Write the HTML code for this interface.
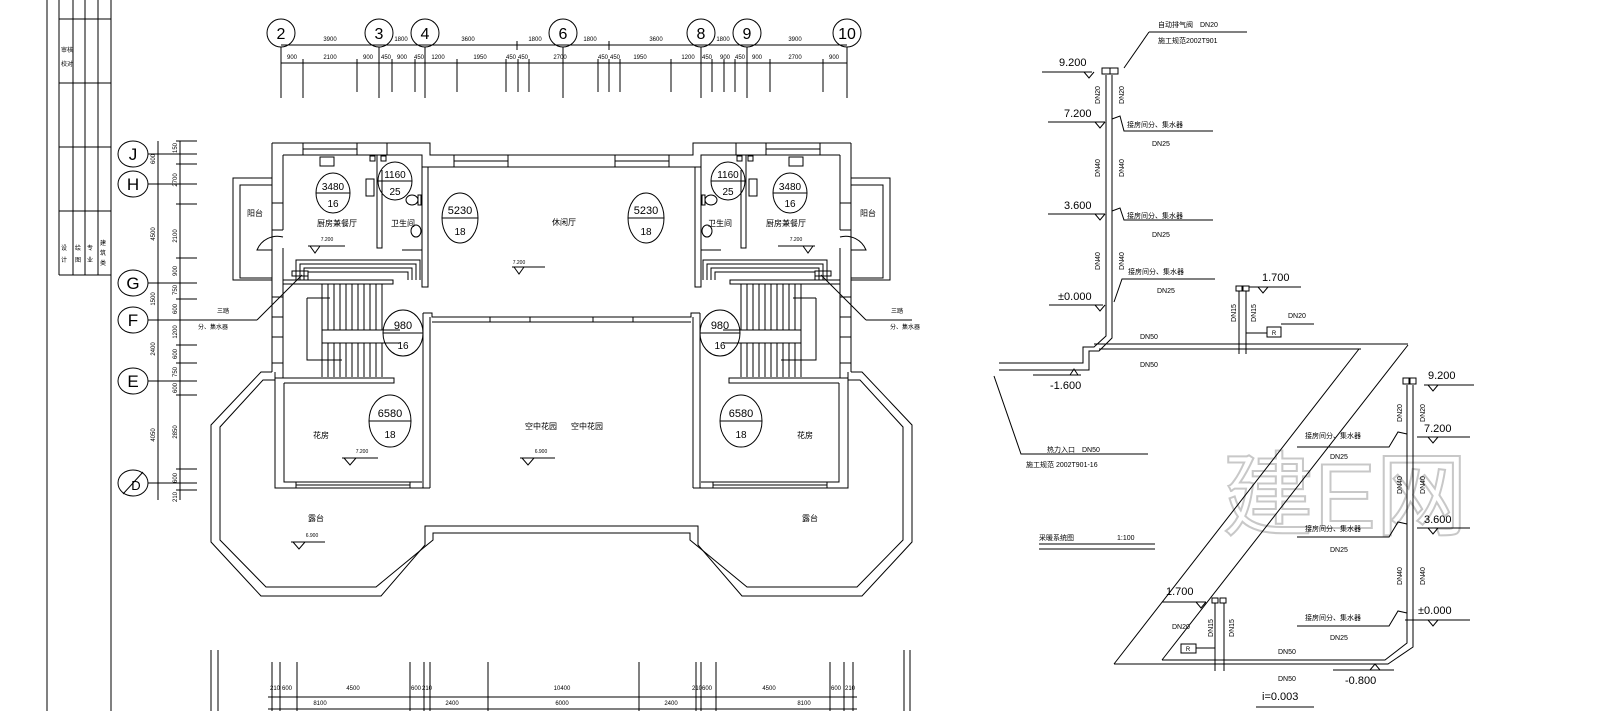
<!DOCTYPE html>
<html><head><meta charset="utf-8"><style>
html,body{margin:0;padding:0;background:#fff;}
svg{display:block;}
text{font-family:"Liberation Sans","Noto Sans CJK SC",sans-serif;fill:#000;}
.c{font-family:"Liberation Sans","Noto Sans CJK SC",sans-serif;}
</style></head><body>
<svg width="1600" height="711" viewBox="0 0 1600 711" xmlns="http://www.w3.org/2000/svg">
<g stroke="#000" stroke-width="1" fill="none">
<!-- title block -->
<line x1="47" y1="0" x2="47" y2="711"/>
<line x1="111" y1="0" x2="111" y2="711"/>
<path d="M59 0V275M73 0V275M85 0V275M98 0V275M59 19H111M59 83H111M59 147H111M59 211H111M59 275H111"/>
</g>
<g font-size="6" class="c">
<text x="61" y="52">审核</text><text x="61" y="66">校对</text>
<text x="61" y="250">设</text><text x="61" y="262">计</text>
<text x="75" y="250">绘</text><text x="75" y="262">图</text>
<text x="87" y="250">专</text><text x="87" y="262">业</text>
<text x="100" y="245">建</text><text x="100" y="255">筑</text><text x="100" y="265">类</text>
</g>

<!-- top axis -->
<g stroke="#000" stroke-width="1" fill="none">
<line x1="281" y1="45" x2="847" y2="45"/>
<line x1="281" y1="63" x2="847" y2="63"/>
<path d="M281 47V98M379 47V98M425 47V98M563 47V98M701 47V98M747 47V98M847 47V98"/>
<path d="M517 41V50M609 41V50"/>
<path d="M303 59V98M357 59V92M392 59V92M415 59V92M457 59V92M506 59V92M518 59V92M529 59V92M598 59V92M609 59V92M620 59V92M671 59V92M712 59V92M724 59V92M735 59V92M770 59V92M823 59V92"/>
<circle cx="281" cy="33" r="14"/><circle cx="379" cy="33" r="14"/><circle cx="425" cy="33" r="14"/><circle cx="563" cy="33" r="14"/><circle cx="701" cy="33" r="14"/><circle cx="747" cy="33" r="14"/><circle cx="847" cy="33" r="14"/>
</g>
<g font-size="16" text-anchor="middle">
<text x="281" y="39">2</text><text x="379" y="39">3</text><text x="425" y="39">4</text><text x="563" y="39">6</text><text x="701" y="39">8</text><text x="747" y="39">9</text><text x="847" y="39">10</text>
</g>
<g font-size="6" text-anchor="middle">
<text x="330" y="41">3900</text><text x="401" y="41">1800</text><text x="468" y="41">3600</text><text x="535" y="41">1800</text><text x="590" y="41">1800</text><text x="656" y="41">3600</text><text x="723" y="41">1800</text><text x="795" y="41">3900</text>
<text x="292" y="59">900</text><text x="330" y="59">2100</text><text x="368" y="59">900</text><text x="386" y="59">450</text><text x="402" y="59">900</text><text x="419" y="59">450</text><text x="438" y="59">1200</text><text x="480" y="59">1950</text><text x="511" y="59">450</text><text x="523" y="59">450</text><text x="560" y="59">2700</text><text x="603" y="59">450</text><text x="615" y="59">450</text><text x="640" y="59">1950</text><text x="688" y="59">1200</text><text x="707" y="59">450</text><text x="725" y="59">900</text><text x="740" y="59">450</text><text x="757" y="59">900</text><text x="795" y="59">2700</text><text x="834" y="59">900</text>
</g>

<!-- left axis -->
<g stroke="#000" stroke-width="1" fill="none">
<line x1="158" y1="141" x2="158" y2="500"/>
<line x1="180" y1="141" x2="180" y2="500"/>
<path d="M148 154H197M148 184H197M148 283H197M148 320H197M148 381H197M148 483H197"/>
<path d="M176 141H197M176 164H197M176 204H197M176 258H197M176 299H197M176 345H197M176 363H197M176 395H197M176 469H197M176 490H197"/>
<ellipse cx="133" cy="154" rx="15" ry="13"/><ellipse cx="133" cy="184" rx="15" ry="13"/><ellipse cx="133" cy="283" rx="15" ry="13"/><ellipse cx="133" cy="320" rx="15" ry="13"/><ellipse cx="133" cy="381" rx="15" ry="13"/><ellipse cx="133" cy="483" rx="15" ry="13"/>
<line x1="123" y1="494" x2="143" y2="472"/>
</g>
<g font-size="17" text-anchor="middle">
<text x="133" y="160">J</text><text x="133" y="190">H</text><text x="133" y="289">G</text><text x="133" y="326">F</text><text x="133" y="387">E</text><text x="136" y="490" font-size="13">D</text>
</g>
<g font-size="6" text-anchor="middle">
<text transform="translate(155,159) rotate(-90)">600</text>
<text transform="translate(155,234) rotate(-90)">4500</text>
<text transform="translate(155,299) rotate(-90)">1500</text>
<text transform="translate(155,349) rotate(-90)">2400</text>
<text transform="translate(155,435) rotate(-90)">4050</text>
<text transform="translate(177,148) rotate(-90)">150</text>
<text transform="translate(177,180) rotate(-90)">2700</text>
<text transform="translate(177,236) rotate(-90)">2100</text>
<text transform="translate(177,271) rotate(-90)">900</text>
<text transform="translate(177,290) rotate(-90)">750</text>
<text transform="translate(177,309) rotate(-90)">600</text>
<text transform="translate(177,332) rotate(-90)">1200</text>
<text transform="translate(177,354) rotate(-90)">600</text>
<text transform="translate(177,372) rotate(-90)">750</text>
<text transform="translate(177,388) rotate(-90)">600</text>
<text transform="translate(177,432) rotate(-90)">2850</text>
<text transform="translate(177,478) rotate(-90)">600</text>
<text transform="translate(177,497) rotate(-90)">210</text>
</g>

<!-- plan: left half, mirrored for right -->
<defs>
<g id="half" stroke="#000" stroke-width="1" fill="none">
  <!-- block top -->
  <path d="M272 143H430V155H562"/>
  <path d="M283 155H422V167H562"/>
  <path d="M303 143V155M357 143V155M387 143V155M303 149H357M454 155V167M508 155V167M454 161H508"/>
  <!-- left walls -->
  <path d="M272 143V372"/>
  <path d="M283 155V230M283 248V378"/>
  <path d="M272 203H283M272 230H283M272 297H283M272 317H283M272 337H283M272 363H283"/>
  <!-- balcony -->
  <path d="M272 178H233V280H272"/>
  <path d="M272 185H240V278H272"/>
  <path d="M283 237A22 22 0 0 0 257 250H272"/>
  <!-- partitions -->
  <path d="M377 155V248H382V170"/>
  <path d="M422 167V287H428V167"/>
  <path d="M402 250H422"/>
  <!-- fixtures -->
  <rect x="320" y="157" width="14" height="9"/><rect x="366" y="179" width="8" height="17"/>
  <rect x="370" y="156" width="5" height="5"/><rect x="381" y="156" width="5" height="5"/>
  <ellipse cx="412" cy="200" rx="6" ry="5"/><rect x="418" y="195" width="3" height="10"/>
  <ellipse cx="416" cy="231" rx="5" ry="6"/>
  <!-- heating coils -->
  <path d="M296 280V260H420V280M300 280V264H416V280M304 280V268H412V280M308 280V272H408V280"/>
  <rect x="292" y="271" width="16" height="5"/>
  <!-- stair -->
  <path d="M283 280H393V284H283"/>
  <path d="M322 284V330M328 284V330M334 284V330M340 284V330M346 284V330M352 284V330M358 284V330M364 284V330M370 284V330M376 284V330M382 284V330"/>
  <path d="M322 343V377M328 343V377M334 343V377M340 343V377M346 343V377M352 343V377M358 343V377M364 343V377M370 343V377M376 343V377M382 343V377"/>
  <path d="M307 298H330M307 298V360H342"/>
  <path d="M322 298V330H400M322 343H400M322 330V343"/>
  <!-- garden left wall / corridor -->
  <path d="M423 313V488M430 317V488"/>
  <path d="M423 313H432V317H562M432 322H562"/>
  <path d="M490 317V322M530 317V322"/>
  <!-- flower room -->
  <path d="M275 378H394V383H284M284 383V482H422"/>
  <path d="M275 372V488H430"/>
  <path d="M296 482V488M410 482V488M296 485H410"/>
  <!-- terrace -->
  <path d="M272 372H261L211 425V542L261 596H381L425 545V526H562"/>
  <path d="M275 380H263L220 427V540L266 587H376L433 540V533H562"/>
  <!-- leader -->
  <path d="M302 275L257 320"/>
</g>
</defs>
<use href="#half"/>
<use href="#half" transform="matrix(-1,0,0,1,1123,0)"/>
<g stroke="#000" stroke-width="1" fill="none">
  <path d="M197 320H257M866 320H912"/>
  <!-- room circles -->
  <ellipse cx="333" cy="193" rx="17" ry="20"/><path d="M316 193H350"/>
  <ellipse cx="395" cy="181" rx="17" ry="19"/><path d="M378 181H412"/>
  <ellipse cx="460" cy="218" rx="18" ry="25"/><path d="M442 218H478"/>
  <ellipse cx="403" cy="333" rx="20" ry="23"/><path d="M383 333H423"/>
  <ellipse cx="390" cy="421" rx="21" ry="26"/><path d="M369 421H411"/>
  <ellipse cx="790" cy="193" rx="17" ry="20"/><path d="M773 193H807"/>
  <ellipse cx="728" cy="181" rx="17" ry="19"/><path d="M711 181H745"/>
  <ellipse cx="646" cy="218" rx="18" ry="25"/><path d="M628 218H664"/>
  <ellipse cx="720" cy="333" rx="20" ry="23"/><path d="M700 333H740"/>
  <ellipse cx="741" cy="421" rx="21" ry="26"/><path d="M720 421H762"/>
  <!-- elevation marks -->
  <path d="M308 246H345M310 246L315 253L320 246"/>
  <path d="M778 246H815M803 246L808 253L813 246"/>
  <path d="M512 267H545M514 267L519 274L524 267"/>
  <path d="M342 458H378M344 458L350 465L356 458"/>
  <path d="M520 458H555M522 458L528 465L534 458"/>
  <path d="M291 542H325M293 542L299 549L305 542"/>
  <!-- bottom dims -->
  <path d="M211 650V711M218 650V711M272 662V711M280 662V711M297 662V711M410 662V711M424 662V711M430 662V711M488 662V711M639 662V711M696 662V711M701 662V711M716 662V711M830 662V711M844 662V711M853 662V711M904 650V711M910 650V711"/>
  <path d="M268 697H857M268 709H857"/>
</g>
<g font-size="10" text-anchor="middle">
  <text x="333" y="190">3480</text><text x="333" y="207">16</text>
  <text x="395" y="178">1160</text><text x="395" y="195">25</text>
  <text x="460" y="214" font-size="11">5230</text><text x="460" y="235">18</text>
  <text x="403" y="329" font-size="11">980</text><text x="403" y="349">16</text>
  <text x="390" y="417" font-size="11">6580</text><text x="390" y="438">18</text>
  <text x="790" y="190">3480</text><text x="790" y="207">16</text>
  <text x="728" y="178">1160</text><text x="728" y="195">25</text>
  <text x="646" y="214" font-size="11">5230</text><text x="646" y="235">18</text>
  <text x="720" y="329" font-size="11">980</text><text x="720" y="349">16</text>
  <text x="741" y="417" font-size="11">6580</text><text x="741" y="438">18</text>
</g>
<g font-size="8" text-anchor="middle">
  <text x="255" y="216">阳台</text><text x="868" y="216">阳台</text>
  <text x="337" y="226">厨房兼餐厅</text><text x="786" y="226">厨房兼餐厅</text>
  <text x="403" y="226">卫生间</text><text x="720" y="226">卫生间</text>
  <text x="564" y="225">休闲厅</text>
  <text x="541" y="429">空中花园</text><text x="587" y="429">空中花园</text>
  <text x="321" y="438">花房</text><text x="805" y="438">花房</text>
  <text x="316" y="521">露台</text><text x="810" y="521">露台</text>
  <text x="223" y="313" font-size="6">三踏</text><text x="213" y="329" font-size="6">分、集水器</text>
  <text x="897" y="313" font-size="6">三踏</text><text x="905" y="329" font-size="6">分、集水器</text>
</g>
<g font-size="5" text-anchor="middle">
  <text x="327" y="241">7.200</text><text x="796" y="241">7.200</text><text x="519" y="264">7.200</text>
  <text x="362" y="453">7.200</text><text x="541" y="453">6.900</text><text x="312" y="537">6.900</text>
</g>
<g font-size="6" text-anchor="middle">
  <text x="275" y="690">210</text><text x="287" y="690">600</text><text x="353" y="690">4500</text><text x="416" y="690">600</text><text x="427" y="690">210</text><text x="562" y="690">10400</text><text x="697" y="690">210</text><text x="707" y="690">600</text><text x="769" y="690">4500</text><text x="836" y="690">600</text><text x="850" y="690">210</text>
  <text x="320" y="705">8100</text><text x="452" y="705">2400</text><text x="562" y="705">6000</text><text x="671" y="705">2400</text><text x="804" y="705">8100</text>
</g>

<!-- big watermark -->
<text x="1345" y="528" font-size="92" text-anchor="middle" style="fill:#fff;stroke:#c8c8c8;stroke-width:2">建E网</text>

<!-- heating system diagram -->
<g stroke="#000" stroke-width="1" fill="none">
  <!-- left riser -->
  <path d="M1106 75V336L1094 347H1083V363H999"/>
  <path d="M1112 75V338L1099 351H1089V370H999"/>
  <path d="M1094 344H1408M1099 349H1361"/>
  <path d="M1359 349L1114 664M1408 345L1162 660"/>
  <path d="M1114 664H1388L1413 647V385"/>
  <path d="M1162 660H1385L1407 643V385"/>
  <!-- top air valves -->
  <path d="M1102 68h8v6h-8zM1110 68h8v6h-8z"/>
  <!-- elevations left -->
  <path d="M1042 72H1092M1084 72L1089 78L1094 72"/>
  <path d="M1048 122H1105M1095 122L1100 128L1105 122"/>
  <path d="M1048 214H1105M1095 214L1100 220L1105 214"/>
  <path d="M1049 305H1103M1095 305L1100 311L1105 305"/>
  <path d="M1033 375H1081M1070 375L1074 369L1078 375"/>
  <!-- branch labels left -->
  <path d="M1112 119L1120 116L1124 131H1213"/>
  <path d="M1112 211L1120 208L1124 220H1213"/>
  <path d="M1114 302L1122 279H1215"/>
  <!-- leaders -->
  <path d="M1149 32H1247M1149 32L1124 68"/>
  <path d="M994 376L1021 454H1148"/>
  <path d="M1039 544H1155M1039 549H1155"/>
  <!-- upper 1.700 -->
  <path d="M1249 287H1301M1258 287L1263 293L1268 287"/>
  <path d="M1236 286h6v5h-6zM1243 286h6v5h-6z"/>
  <path d="M1239 291V354M1246 291V354M1246 333H1267"/>
  <rect x="1267" y="327" width="14" height="10"/>
  <path d="M1281 324H1314"/>
  <!-- lower 1.700 -->
  <path d="M1162 602H1206M1196 602L1201 608L1206 602"/>
  <path d="M1212 598h6v5h-6zM1220 598h6v5h-6z"/>
  <path d="M1215 603V671M1224 603V671M1196 648H1215"/>
  <rect x="1181" y="644" width="15" height="9"/>
  <!-- right riser tops -->
  <path d="M1403 378h6v6h-6zM1410 378h6v6h-6z"/>
  <!-- elevations right -->
  <path d="M1424 385H1474M1428 385L1433 391L1438 385"/>
  <path d="M1417 437H1470M1428 437L1433 443L1438 437"/>
  <path d="M1417 528H1470M1428 528L1433 534L1438 528"/>
  <path d="M1405 620H1470M1428 620L1433 626L1438 620"/>
  <path d="M1333 670H1394M1370 670L1375 664L1380 670"/>
  <path d="M1256 707H1314"/>
  <!-- right branch labels -->
  <path d="M1297 447H1389L1398 432L1407 434"/>
  <path d="M1297 537H1389L1398 522L1407 524"/>
  <path d="M1297 626H1389L1398 611L1407 613"/>
</g>
<g font-size="11">
  <text x="1059" y="66">9.200</text><text x="1064" y="117">7.200</text><text x="1064" y="209">3.600</text><text x="1058" y="300">±0.000</text><text x="1050" y="389">-1.600</text>
  <text x="1262" y="281">1.700</text><text x="1166" y="595">1.700</text>
  <text x="1428" y="379">9.200</text><text x="1424" y="432">7.200</text><text x="1424" y="523">3.600</text><text x="1418" y="614">±0.000</text><text x="1345" y="684">-0.800</text>
  <text x="1262" y="700">i=0.003</text>
</g>
<g font-size="7">
  <text x="1158" y="27">自动排气阀　DN20</text><text x="1158" y="43">施工规范2002T901</text>
  <text x="1127" y="127">接房间分、集水器</text><text x="1152" y="146">DN25</text>
  <text x="1127" y="218">接房间分、集水器</text><text x="1152" y="237">DN25</text>
  <text x="1128" y="274">接房间分、集水器</text><text x="1157" y="293">DN25</text>
  <text x="1140" y="339">DN50</text><text x="1140" y="367">DN50</text>
  <text x="1288" y="318">DN20</text><text x="1172" y="629">DN20</text>
  <text x="1047" y="452">热力入口　DN50</text><text x="1026" y="467">施工规范 2002T901-16</text>
  <text x="1039" y="540">采暖系统图</text><text x="1117" y="540">1:100</text>
  <text x="1305" y="438">接房间分、集水器</text><text x="1330" y="459">DN25</text>
  <text x="1305" y="531">接房间分、集水器</text><text x="1330" y="552">DN25</text>
  <text x="1305" y="620">接房间分、集水器</text><text x="1330" y="640">DN25</text>
  <text x="1278" y="654">DN50</text><text x="1278" y="681">DN50</text>
</g>
<g font-size="7" text-anchor="middle">
  <text transform="translate(1100,95) rotate(-90)">DN20</text><text transform="translate(1124,95) rotate(-90)">DN20</text>
  <text transform="translate(1100,168) rotate(-90)">DN40</text><text transform="translate(1124,168) rotate(-90)">DN40</text>
  <text transform="translate(1100,261) rotate(-90)">DN40</text><text transform="translate(1124,261) rotate(-90)">DN40</text>
  <text transform="translate(1236,313) rotate(-90)">DN15</text><text transform="translate(1256,313) rotate(-90)">DN15</text>
  <text transform="translate(1213,628) rotate(-90)">DN15</text><text transform="translate(1234,628) rotate(-90)">DN15</text>
  <text transform="translate(1402,413) rotate(-90)">DN20</text><text transform="translate(1425,413) rotate(-90)">DN20</text>
  <text transform="translate(1402,485) rotate(-90)">DN40</text><text transform="translate(1425,485) rotate(-90)">DN40</text>
  <text transform="translate(1402,576) rotate(-90)">DN40</text><text transform="translate(1425,576) rotate(-90)">DN40</text>
</g>
<g font-size="6" text-anchor="middle"><text x="1274" y="335">R</text><text x="1188" y="651">R</text></g>
</svg>
</body></html>
